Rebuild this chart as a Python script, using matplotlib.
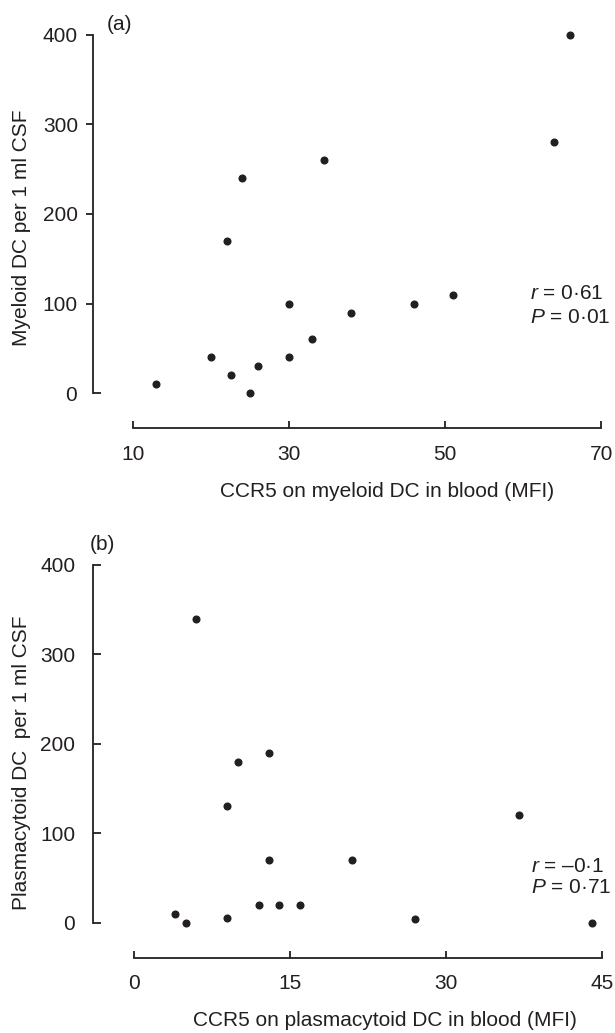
import matplotlib
matplotlib.use('Agg')
import matplotlib.pyplot as plt

# panel (a): myeloid DC
mdc_ccr5 = [13, 20, 22.5, 22, 24, 25, 26, 30, 30, 33, 34.5, 38, 46, 51, 64, 66]
mdc_csf = [10, 40, 20, 170, 240, 0, 30, 100, 40, 60, 260, 90, 100, 110, 280, 400]

# panel (b): plasmacytoid DC
pdc_ccr5 = [4, 5, 6, 9, 9, 10, 12, 13, 13, 14, 16, 21, 27, 37, 44]
pdc_csf = [10, 0, 340, 5, 130, 180, 20, 190, 70, 20, 20, 70, 4, 120, 0]

xticks_a = [10, 30, 50, 70]
xticks_b = [0, 15, 30, 45]
yticks = [0, 100, 200, 300, 400]

ink = '#231f20'
FS = 15
plt.rcParams['font.family'] = ['Liberation Sans', 'DejaVu Sans']
plt.rcParams['font.size'] = FS
plt.rcParams['text.color'] = ink
plt.rcParams['mathtext.fontset'] = 'custom'
plt.rcParams['mathtext.it'] = 'Liberation Sans:italic'
plt.rcParams['mathtext.rm'] = 'Liberation Sans'

W, H = 615, 1033
fig = plt.figure(figsize=(W / 100, H / 100), dpi=100)


def panel(top_px, x, y, xticks, xlim, ylim, spine_y, xlabel, ylabel):
    ax = fig.add_axes([93 / W, 1 - (top_px + 404) / H, 519 / W, 404 / H])
    ax.plot(x, y, 'o', color=ink, markersize=4.8, clip_on=False)
    ax.set_xlim(*xlim)
    ax.set_ylim(*ylim)

    for s in ['top', 'right']:
        ax.spines[s].set_visible(False)
    ax.spines['left'].set_bounds(0, 400)
    ax.spines['bottom'].set_bounds(xticks[0], xticks[-1])
    ax.spines['bottom'].set_position(('data', spine_y))
    for s in ['left', 'bottom']:
        ax.spines[s].set_linewidth(1.3)
        ax.spines[s].set_color(ink)

    ax.set_xticks(xticks)
    ax.tick_params(axis='x', direction='in', length=5, width=1.3, pad=12,
                   colors=ink, labelsize=FS)
    ax.set_xlabel(xlabel, fontsize=FS, color=ink)
    ax.set_ylabel(ylabel, fontsize=FS, color=ink)
    return ax


# (a)
ax1 = panel(28, mdc_ccr5, mdc_csf, xticks_a, (4.87, 71.4), (-43.2, 407.5), -38.8,
            'CCR5 on myeloid DC in blood (MFI)', 'Myeloid DC per 1 ml CSF')
ax1.set_yticks(yticks[1:])
ax1.tick_params(axis='y', direction='out', length=5, width=1.3, pad=5.8,
                colors=ink, labelsize=FS)
# zero tick points into the plot
ax1.set_yticks([0], labels=['0'], minor=True)
ax1.tick_params(axis='y', which='minor', direction='in', length=5.5, width=1.3,
                pad=11.5, colors=ink, labelsize=FS)
ax1.text(60.9, 111.5, r'$\mathit{r}$ = 0·61', ha='left', va='center', fontsize=FS)
ax1.text(60.9, 84.7, r'$\mathit{P}$ = 0·01', ha='left', va='center', fontsize=FS)
ax1.xaxis.set_label_coords((387 - 93) / 519, (432 - 482) / 404)
ax1.yaxis.set_label_coords((31 - 93) / 519, 0.506)
fig.text(107 / W, 1 - 25 / H, '(a)', fontsize=FS, ha='left', va='center')

# (b)
ax2 = panel(558, pdc_ccr5, pdc_csf, xticks_b, (-3.9, 45.96), (-44, 407.8), -39.1,
            'CCR5 on plasmacytoid DC in blood (MFI)', 'Plasmacytoid DC  per 1 ml CSF')
ax2.set_yticks(yticks)
ax2.tick_params(axis='y', direction='in', length=5.8, width=1.3, pad=12.7,
                colors=ink, labelsize=FS)
ax2.text(38.2, 62.3, r'$\mathit{r}$ = –0·1', ha='left', va='center', fontsize=FS)
ax2.text(38.2, 38.8, r'$\mathit{P}$ = 0·71', ha='left', va='center', fontsize=FS)
ax2.xaxis.set_label_coords((385 - 93) / 519, (962 - 1011) / 404)
ax2.yaxis.set_label_coords((31 - 93) / 519, 0.493)
fig.text(90 / W, 1 - 544 / H, '(b)', fontsize=FS, ha='left', va='center')

fig.savefig('out.png', dpi=100)
